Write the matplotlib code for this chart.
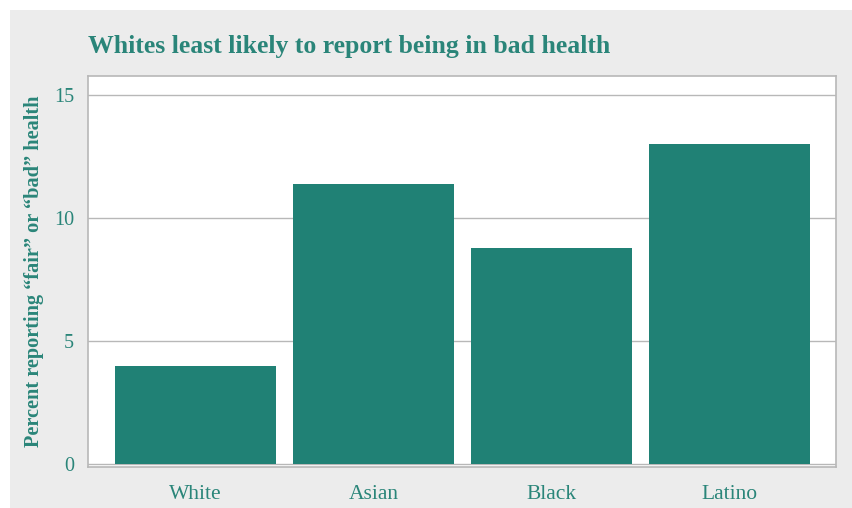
import matplotlib
matplotlib.use("Agg")
import matplotlib.pyplot as plt
from matplotlib.patches import Rectangle

categories = ["White", "Asian", "Black", "Latino"]
values = [4.0, 11.4, 8.8, 13.0]
yticks = [0, 5, 10, 15]

teal = "#208175"
text_teal = "#2a8579"
panel_gray = "#ececec"
grid_gray = "#b8b8b8"

plt.rcParams["font.family"] = ["Liberation Serif", "DejaVu Serif"]

fig = plt.figure(figsize=(8.53, 5.08), dpi=100)
fig.patch.set_facecolor("white")
W, H = 853, 508

# grey backing panel behind the whole chart
bg = fig.add_axes([0, 0, 1, 1], zorder=-10)
bg.set_xlim(0, W)
bg.set_ylim(H, 0)
bg.axis("off")
bg.add_patch(Rectangle((10, 10), W - 10, H - 10, facecolor=panel_gray, edgecolor="none"))

ax = fig.add_axes([88 / W, 1 - 467 / H, (836 - 88) / W, (467 - 76) / H], zorder=1)
ax.set_facecolor("white")
x = range(len(categories))
ax.bar(x, values, width=0.905, color=teal, zorder=3)
ax.set_xlim(-0.604, 3.598)
ax.set_ylim(-0.12, 15.77)
ax.set_yticks(yticks)
ax.set_xticks(list(x))
ax.set_xticklabels(categories)
ax.yaxis.grid(True, color=grid_gray, linewidth=1.0, zorder=0)
ax.set_axisbelow(True)
ax.tick_params(axis="both", length=0, labelcolor=text_teal)
ax.tick_params(axis="x", pad=13, labelsize=15.5)
ax.tick_params(axis="y", pad=10, labelsize=14.5)
for s in ax.spines.values():
    s.set_color(grid_gray)
    s.set_linewidth(1.2)

ax.set_ylabel("Percent reporting \u201cfair\u201d or \u201cbad\u201d health",
              fontsize=14.6, fontweight="bold", color=text_teal, labelpad=7)
fig.text(88 / W, 1 - 46 / H, "Whites least likely to report being in bad health",
         fontsize=18.5, fontweight="bold", color=text_teal, ha="left", va="center")

fig.savefig("out.png", dpi=100)
